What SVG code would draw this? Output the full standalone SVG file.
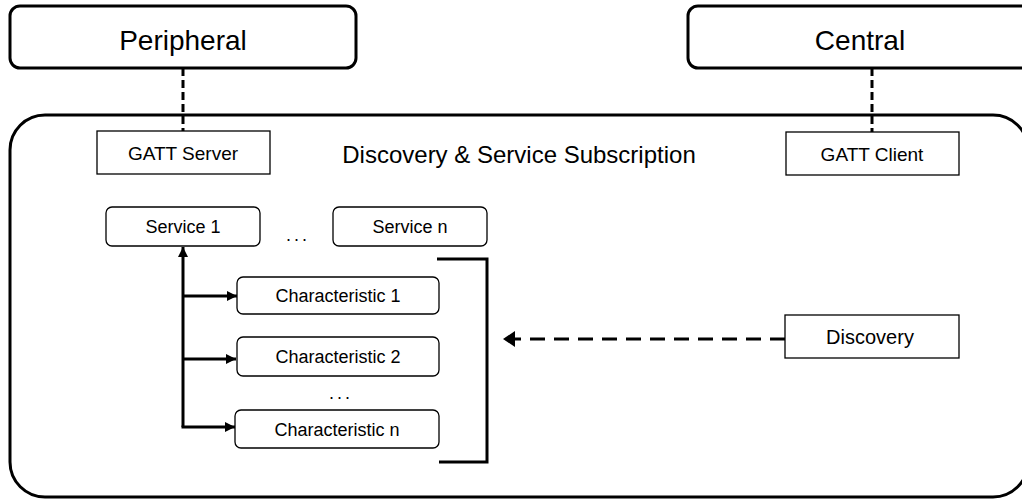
<svg xmlns="http://www.w3.org/2000/svg" width="1022" height="500" viewBox="0 0 1022 500">
  <defs>
    <style>
      .role { fill: #fff; stroke: #000; stroke-width: 3; }
      .frame { fill: none; stroke: #000; stroke-width: 3; }
      .box { fill: #fff; stroke: #000; stroke-width: 1.3; }
      .link { fill: none; stroke: #000; stroke-width: 3; stroke-dasharray: 8 4; }
      .flow { fill: none; stroke: #000; stroke-width: 3; }
      .req { fill: none; stroke: #000; stroke-width: 3; stroke-dasharray: 15 9; }
      text { font-family: "Liberation Sans", Arial, sans-serif; fill: #000; text-anchor: middle; }
      .big { font-size: 28px; }
      .mid { font-size: 19px; }
      .sm { font-size: 18px; }
      .dots { font-size: 18px; letter-spacing: 3px; }
    </style>
    <marker id="head" markerUnits="userSpaceOnUse" markerWidth="10" markerHeight="10" viewBox="0 0 10 10" refX="10" refY="5" orient="auto">
      <path d="M0,0 L10,5 L0,10 Z" fill="#000"/>
    </marker>
    <marker id="headBig" markerUnits="userSpaceOnUse" markerWidth="12" markerHeight="16" viewBox="0 0 12 16" refX="12" refY="8" orient="auto">
      <path d="M0,0 L12,8 L0,16 Z" fill="#000"/>
    </marker>
  </defs>

  <!-- outer container -->
  <rect id="container" class="frame" x="10" y="115" width="1018" height="382" rx="35" ry="35"/>

  <!-- connectors -->
  <g id="connectors">
    <line class="link" x1="183" y1="68" x2="183" y2="131"/>
    <line class="link" x1="872" y1="68" x2="872" y2="132"/>
    <line class="flow" x1="183" y1="427" x2="183" y2="247" marker-end="url(#head)"/>
    <line class="flow" x1="183" y1="296" x2="237" y2="296" marker-end="url(#head)"/>
    <line class="flow" x1="183" y1="359" x2="236" y2="359" marker-end="url(#head)"/>
    <line class="flow" x1="181.5" y1="427" x2="235" y2="427" marker-end="url(#head)"/>
    <polyline class="flow" points="437,259 487,259 487,462 439,462"/>
    <line class="req" x1="785" y1="339" x2="503" y2="339" marker-end="url(#headBig)"/>
  </g>

  <g id="peripheral">
    <rect class="role" x="10" y="6" width="346" height="62" rx="10" ry="10"/>
    <text class="big" x="183" y="50">Peripheral</text>
  </g>

  <g id="central">
    <rect class="role" x="688" y="6" width="344" height="62" rx="10" ry="10"/>
    <text class="big" x="860" y="50">Central</text>
  </g>

  <g id="gatt-server">
    <rect class="box" x="97" y="131" width="173" height="43"/>
    <text class="mid" x="183" y="160">GATT Server</text>
  </g>

  <g id="gatt-client">
    <rect class="box" x="786" y="132" width="173" height="43"/>
    <text class="mid" x="872" y="161">GATT Client</text>
  </g>

  <g id="title">
    <text x="519" y="163" style="font-size:24px">Discovery &amp; Service Subscription</text>
  </g>

  <g id="service-1">
    <rect class="box" x="106" y="207" width="154" height="39" rx="6" ry="6"/>
    <text class="sm" x="183" y="233">Service 1</text>
  </g>

  <g id="service-ellipsis">
    <text class="dots" x="298" y="241">...</text>
  </g>

  <g id="service-n">
    <rect class="box" x="333" y="207" width="154" height="39" rx="6" ry="6"/>
    <text class="sm" x="410" y="233">Service n</text>
  </g>

  <g id="characteristic-1">
    <rect class="box" x="237" y="277" width="202" height="37" rx="6" ry="6"/>
    <text class="sm" x="338" y="302">Characteristic 1</text>
  </g>

  <g id="characteristic-2">
    <rect class="box" x="237" y="337" width="202" height="39" rx="6" ry="6"/>
    <text class="sm" x="338" y="363">Characteristic 2</text>
  </g>

  <g id="characteristic-ellipsis">
    <text class="dots" x="341" y="399">...</text>
  </g>

  <g id="characteristic-n">
    <rect class="box" x="235" y="410" width="204" height="38" rx="6" ry="6"/>
    <text class="sm" x="337" y="436">Characteristic n</text>
  </g>

  <g id="discovery">
    <rect class="box" x="785" y="315" width="174" height="43"/>
    <text x="870" y="344" style="font-size:20px">Discovery</text>
  </g>
</svg>
